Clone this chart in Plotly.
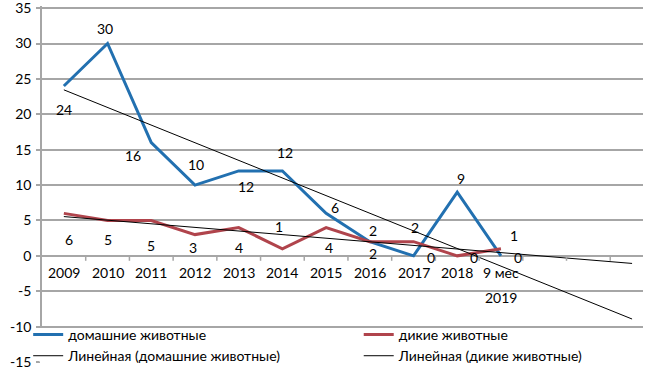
import numpy as np
import plotly.graph_objects as go

# ---- data ----
categories = ["2009", "2010", "2011", "2012", "2013", "2014", "2015", "2016", "2017", "2018", "9 мес<br>2019"]
domestic = [24, 30, 16, 10, 12, 12, 6, 2, 0, 9, 0]
wild = [6, 5, 5, 3, 4, 1, 4, 2, 2, 0, 1]
series_names = ["домашние животные", "дикие животные"]
trend_names = ["Линейная (домашние животные)", "Линейная (дикие животные)"]
forecast_periods = 3
y_ticks = [-15, -10, -5, 0, 5, 10, 15, 20, 25, 30, 35]
y_tick_text = ["-15", "-10", "-5", "0", "5", "10", "15", "20", "25", "30", "35"]

# ---- styles ----
BLUE = "#2270B0"
RED = "#B0444C"
GRID = "#A6A6A6"
FONT = "Lato, 'Noto Sans', sans-serif"
# label offsets in pixels (dx, dy) for data labels
dom_off = [(0, -24), (-3, 15), (-18, -13), (1, 21), (7, -16), (3, 18), (9, 6), (3, 11), (17, -2), (4, 14), (17, -2)]
wild_off = [(5, -26), (0, -19), (0, -25), (-2, -13), (0, -20), (-3, 22), (3, -20), (3, -12), (1, 14), (17, -2), (13, 13)]

x = np.arange(len(categories))
xt = np.arange(len(categories) + forecast_periods)

fig = go.Figure()
fig.add_trace(go.Scatter(x=x, y=domestic, mode="lines", name=series_names[0],
                         line=dict(color=BLUE, width=3), legend="legend"))
fig.add_trace(go.Scatter(x=x, y=wild, mode="lines", name=series_names[1],
                         line=dict(color=RED, width=3), legend="legend2"))
for vals, nm, lg in zip([domestic, wild], trend_names, ["legend", "legend2"]):
    k, b = np.polyfit(x, vals, 1)
    fig.add_trace(go.Scatter(x=[xt[0], xt[-1]], y=[k * xt[0] + b, k * xt[-1] + b], mode="lines",
                             name=nm, line=dict(color="black", width=1), legend=lg))

annotations = []
for vals, offs in [(domestic, dom_off), (wild, wild_off)]:
    for i, (v, (dx, dy)) in enumerate(zip(vals, offs)):
        annotations.append(dict(x=i, y=v, text=str(v), showarrow=False, xshift=dx, yshift=dy,
                                font=dict(size=14, color="black", family=FONT)))
for i, c in enumerate(categories):
    for j, part in enumerate(c.split("<br>")):
        annotations.append(dict(x=i, y=0, text=part, showarrow=False, yanchor="top", yshift=-6 - 25 * j,
                                font=dict(size=14, color="black", family=FONT)))

shapes = []
for i in range(len(xt)):
    shapes.append(dict(type="line", xref="x", yref="y", x0=i + 0.5, x1=i + 0.5, y0=0, y1=-0.7,
                       line=dict(color=GRID, width=1.5)))
# white area under the legend and below the cropped bottom edge
shapes.append(dict(type="rect", xref="paper", yref="y", x0=-0.004, x1=1.1, y0=-10.2, y1=-16,
                   fillcolor="white", line=dict(width=0), layer="above"))
shapes.append(dict(type="rect", xref="paper", yref="y", x0=-0.2, x1=1.1, y0=-15.05, y1=-18,
                   fillcolor="white", line=dict(width=0), layer="above"))

legend_style = dict(orientation="v", xanchor="left", y=0.121, yanchor="top",
                    bgcolor="rgba(0,0,0,0)", font=dict(size=14, family=FONT, color="black"),
                    itemwidth=30, tracegroupgap=0)
fig.update_layout(
    width=653, height=373,
    margin=dict(l=42, r=10, t=6, b=11, autoexpand=False),
    paper_bgcolor="white", plot_bgcolor="white",
    font=dict(family=FONT, size=14, color="black"),
    showlegend=True,
    legend=dict(x=-0.023, **legend_style),
    legend2=dict(x=0.527, **legend_style),
    annotations=annotations,
    shapes=shapes,
)
fig.update_xaxes(range=[-0.5, 13.25], showticklabels=False, showgrid=False, zeroline=False,
                 showline=False, ticks="")
fig.update_yaxes(range=[-15, 35.3], tickvals=y_ticks, ticktext=y_tick_text, showgrid=True,
                 gridcolor=GRID, gridwidth=1.5,
                 zeroline=False, showline=True, linecolor=GRID, linewidth=1.5,
                 ticks="outside", ticklen=4, tickcolor=GRID, tickwidth=1.5,
                 ticklabeloverflow="allow",
                 ticklabelstandoff=2, tickfont=dict(size=14, family=FONT))

fig.write_html("out.html", config={"displayModeBar": False},
               post_script="document.body.style.margin='0px';")
